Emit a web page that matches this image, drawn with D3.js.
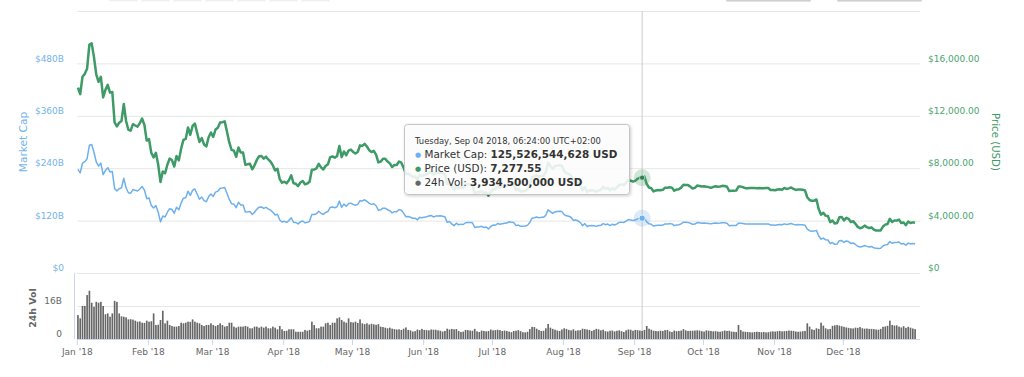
<!DOCTYPE html>
<html><head><meta charset="utf-8">
<script src="https://cdn.jsdelivr.net/npm/d3@7"></script>
<style>html,body{margin:0;padding:0;background:#fff;overflow:hidden}svg{display:block;font-family:"DejaVu Sans",sans-serif}</style>
</head><body><svg id="c" width="1024" height="377"></svg>
<script>
// ---------- DATA ----------
const startDate = "2018-01-01"; // one point per day, snapshot 06:24
const priceUSD = [14156,13657,14982,15201,15599,17429,17527,16477,15170,14595,
14973,13405,13980,14360,13772,13819,11490,11188,11474,11607,
12899,11600,10931,10868,11359,11259,11171,11441,11787,11296,
10106,10221,9171,8830,9174,8277,6955,7754,7621,8265,
8736,8621,8129,8926,8598,9494,10166,10233,11112,10551,
11225,11403,10690,10005,10301,9813,9664,10366,10725,10397,
10951,11086,11489,11512,11573,10779,9965,9395,9337,8866,
9578,9205,9194,8269,8300,8338,7916,8223,8630,8913,
8929,8729,8879,8668,8495,8209,7833,7954,7165,6890,
6973,6845,7083,7456,6853,6811,6636,6911,7023,6770,
6834,6968,7889,7895,7986,8329,8058,7902,8163,8294,
8845,8895,8802,8930,9697,8845,9281,8987,9348,9419,
9240,9119,9235,9743,9700,9858,9654,9373,9234,9325,
9043,8441,8504,8723,8716,8510,8368,8094,8250,8247,
8513,8419,8041,7557,7587,7481,7355,7368,7135,7472,
7406,7494,7541,7643,7720,7514,7633,7653,7678,7624,
7531,6786,6906,6582,6349,6675,6456,6550,6499,6734,
6769,6776,6729,6083,6162,6173,6249,6093,6157,5903,
6218,6404,6385,6614,6529,6597,6639,6673,6857,6773,
6741,6329,6394,6228,6238,6276,6359,6741,7321,7370,
7466,7354,7419,7418,7711,8424,8181,7951,8165,8192,
8218,8180,7780,7624,7567,7434,7032,7068,6951,6753,
6305,6568,6184,6295,6322,6297,6199,6308,6334,6580,
6423,6506,6308,6488,6376,6534,6719,6763,6707,6884,
7096,7047,6978,7037,7193,7273,7277.55,7362,6792,6529,
6467,6225,6300,6329,6321,6351,6517,6512,6543,6517,
6281,6371,6398,6519,6734,6721,6710,6595,6446,6495,
6676,6644,6601,6625,6589,6556,6502,6576,6622,6588,
6602,6652,6642,6585,6256,6274,6285,6290,6596,6596,
6544,6476,6465,6489,6482,6487,6476,6484,6470,6467,
6484,6486,6332,6334,6317,6377,6388,6361,6487,6415,
6462,6531,6416,6342,6382,6375,6359,6303,5783,5574,
5510,5520,5615,4871,4452,4602,4365,4347,3881,4009,
3779,3820,4257,4279,4017,4214,4139,3894,3957,3753,
3521,3419,3476,3615,3503,3424,3486,3313,3242,3236,
3252,3545,3696,3745,4134,3896,4014,3998,4078,3815,
3857,3654,3923,3820,3865,3830];
const marketCapB = [237.5,229.2,251.4,255.1,261.8,292.5,294.1,276.5,254.6,244.9,
251.6,225.2,234.9,241.2,231.4,232.2,193.0,188.0,192.8,195.0,
217.0,195.1,183.9,182.8,191.1,189.4,187.9,192.4,198.2,190.0,
170.2,172.1,154.4,148.7,154.5,139.4,117.1,130.6,128.3,139.2,
147.3,145.4,137.1,150.5,145.0,160.1,171.4,172.5,187.4,177.9,
189.5,192.5,180.4,168.9,173.9,165.6,163.1,175.0,181.0,175.5,
185.1,187.4,194.2,194.6,195.6,182.2,168.4,158.8,157.8,149.8,
162.1,155.8,155.6,139.9,140.4,141.1,133.9,139.1,146.0,150.8,
151.3,147.9,150.4,146.8,143.9,139.1,132.7,134.7,121.4,116.7,
118.3,116.1,120.1,126.5,116.2,115.5,112.5,117.2,119.1,114.8,
116.0,118.3,133.9,134.0,135.5,141.3,136.7,134.1,138.5,140.8,
150.3,151.1,149.5,151.7,164.7,150.3,157.7,152.7,158.8,160.0,
157.2,155.1,157.1,165.7,165.0,167.7,164.2,159.4,157.1,158.6,
154.0,143.7,144.8,148.5,148.4,144.9,142.5,137.8,140.5,140.4,
145.1,143.5,137.1,128.9,129.4,127.6,125.4,125.6,121.7,127.4,
126.4,127.9,128.7,130.5,131.8,128.3,130.3,130.6,131.1,130.1,
128.7,116.0,118.0,112.5,108.5,114.1,110.3,111.9,111.1,115.1,
115.8,115.9,115.1,104.1,105.4,105.6,106.9,104.3,105.3,101.0,
106.5,109.7,109.4,113.3,111.8,113.0,113.7,114.3,117.5,116.0,
115.6,108.5,109.7,106.8,107.0,107.6,109.1,115.6,125.6,126.4,
128.2,126.3,127.4,127.4,132.4,144.6,140.5,136.5,140.2,140.7,
141.3,140.6,133.7,131.0,130.1,127.8,120.9,121.5,119.5,116.1,
108.5,113.0,106.4,108.3,108.8,108.4,106.7,108.6,109.0,113.2,
110.7,112.1,108.7,111.8,109.9,112.6,115.8,116.5,115.6,118.6,
122.4,121.6,120.4,121.4,124.1,125.5,125.53,127.0,117.2,112.6,
111.6,107.4,108.7,109.2,109.1,109.6,112.5,112.4,112.9,112.5,
108.5,110.1,110.6,112.6,116.4,116.1,115.9,114.0,111.4,112.2,
115.5,114.9,114.2,114.6,114.0,113.4,112.5,113.8,114.6,114.0,
114.3,115.1,115.0,114.0,108.3,108.6,108.8,108.9,114.2,114.2,
113.4,112.2,112.0,112.5,112.3,112.4,112.2,112.4,112.1,112.1,
112.5,112.5,109.9,109.9,109.6,110.6,110.8,110.4,112.5,111.3,
112.2,113.4,111.4,110.1,110.8,110.7,110.4,109.4,100.4,96.8,
95.8,95.9,97.6,84.7,77.4,80.0,75.9,75.6,67.5,69.7,
65.7,66.4,74.0,74.4,69.9,73.3,72.0,67.7,68.8,65.3,
61.3,59.5,60.5,62.9,61.0,59.6,60.7,57.7,56.4,56.3,
56.7,61.8,64.4,65.3,72.1,67.9,70.0,69.7,71.1,66.5,
67.3,63.7,68.4,66.6,67.4,66.8];
const volumeB = [11.6,10.0,16.0,16.0,21.3,23.4,17.6,15.6,18.0,17.6,
18.0,16.0,12.0,12.4,10.8,12.4,18.5,18.0,12.4,11.0,
10.8,10.5,9.5,9.6,9.4,8.9,8.4,8.5,7.9,7.8,
8.9,8.4,8.6,12.4,6.8,6.9,9.2,13.7,7.6,8.9,
6.8,6.3,6.0,6.0,6.3,7.9,7.6,7.9,8.4,8.3,
9.5,8.4,7.9,7.6,6.8,6.3,6.8,6.8,7.6,6.8,
6.3,6.8,7.6,6.8,6.0,6.3,7.9,7.9,6.0,5.5,
6.0,6.0,6.0,6.3,6.0,5.2,5.2,6.0,6.0,5.5,
6.0,5.5,6.0,5.2,5.2,6.0,5.5,4.7,6.3,4.7,
3.9,4.0,4.7,4.7,4.7,3.5,3.5,3.5,3.5,4.4,
4.0,4.4,8.4,6.8,5.2,5.2,6.0,6.0,7.6,7.9,
6.8,7.9,7.9,10.0,10.5,9.2,8.4,7.9,10.0,8.2,
8.0,8.4,7.8,9.5,7.6,7.2,7.6,7.0,7.4,7.1,
6.9,7.2,6.0,5.8,5.5,5.2,5.5,5.0,4.8,4.6,
4.7,4.4,5.0,5.6,4.4,4.2,3.6,3.8,4.6,4.3,
4.9,4.4,4.3,4.2,4.6,4.5,4.5,4.2,4.0,3.6,
3.9,5.0,4.6,4.9,4.7,4.8,3.9,3.4,3.6,4.4,
4.3,4.1,4.0,4.9,3.7,3.4,4.1,3.9,3.7,3.9,
4.6,4.2,4.3,4.5,4.3,3.9,4.1,3.9,3.6,3.3,
3.9,4.0,4.3,3.8,3.3,3.2,3.5,4.8,5.9,5.8,
5.0,4.4,3.9,4.0,5.2,7.3,5.5,4.9,4.5,4.1,
3.9,4.6,5.2,4.9,4.4,4.2,4.7,4.0,4.2,4.3,
5.0,4.8,4.6,4.4,3.9,4.4,4.9,4.7,4.2,4.5,
3.8,3.6,4.0,4.1,3.7,4.0,4.2,3.8,3.4,4.2,
4.6,4.5,4.0,4.4,4.3,4.1,3.9345,4.4,6.3,5.0,
4.5,4.0,3.9,3.8,4.0,3.9,4.3,4.4,3.7,3.4,
4.1,3.8,3.9,4.1,4.8,4.2,3.9,4.0,4.0,4.1,
4.2,4.1,3.8,3.6,4.2,4.0,3.9,3.7,3.8,3.6,
3.5,3.8,4.1,3.9,4.0,3.6,3.5,3.4,6.8,4.3,
3.6,3.5,3.4,3.3,3.2,3.4,3.5,3.4,3.3,3.4,
3.2,3.3,3.6,3.7,3.6,3.8,3.9,3.7,3.8,3.9,
4.1,4.0,3.9,3.6,3.5,3.6,3.8,3.9,7.6,6.0,
4.7,4.4,5.2,4.9,7.9,6.5,5.2,4.7,4.9,6.4,
6.6,6.8,6.5,6.2,5.9,5.6,5.4,5.2,5.1,5.5,
5.4,5.8,5.2,5.0,5.1,4.9,4.9,4.8,4.6,4.5,
4.9,5.9,6.1,6.4,8.9,6.8,6.5,6.6,6.0,5.6,
6.2,5.4,5.9,5.5,5.1,4.8];
const priceTicks = [0, 4000, 8000, 12000, 16000, 20000];
const capTicksB = [0, 120, 240, 360, 480, 600];
const volTicksB = [0, 16];
const monthTicks = ["2018-01-01","2018-02-01","2018-03-01","2018-04-01","2018-05-01","2018-06-01",
  "2018-07-01","2018-08-01","2018-09-01","2018-10-01","2018-11-01","2018-12-01"];
const monthLabels = ["Jan '18","Feb '18","Mar '18","Apr '18","May '18","Jun '18",
  "Jul '18","Aug '18","Sep '18","Oct '18","Nov '18","Dec '18"];
const hoverIndex = 246;
const tipHeader = "Tuesday, Sep 04 2018, 06:24:00 UTC+02:00";
const tipNames = ["Market Cap: ", "Price (USD): ", "24h Vol: "];
const tipValues = ["125,526,544,628 USD", "7,277.55", "3,934,500,000 USD"];

// ---------- LAYOUT / STYLE ----------
const X0 = 77.3, X1 = 920, YT = 11, YB = 273, VB = 339, V16 = 306;
const BLUE = "#6eb0ec", BLUE_T = "#74b3ea", GREEN = "#3e9a66", GREEN_T = "#4aa470";
const GRID = "#e6e6e6", AXIS = "#ccd6eb";

const svg = d3.select("#c");
const parse = d3.utcParse("%Y-%m-%d");
const t0 = parse(startDate);
const x = d3.scaleUtc().domain([t0, d3.utcHour.offset(t0, 367 * 24 + 10)]).range([X0, X1]);
const tAt = i => d3.utcMinute.offset(d3.utcDay.offset(t0, i), 384);
const yP = d3.scaleLinear().domain([0, 20000]).range([YB, YT]);
const yC = d3.scaleLinear().domain([0, 600]).range([YB, YT]);
const yV = d3.scaleLinear().domain([0, 16]).range([VB, V16]);

// defs
const defs = svg.append("defs");
const f = defs.append("filter").attr("id", "sh").attr("x", "-10%").attr("y", "-10%").attr("width", "130%").attr("height", "140%");
f.append("feDropShadow").attr("dx", 1).attr("dy", 1).attr("stdDeviation", 1.4).attr("flood-color", "#000").attr("flood-opacity", 0.22);

// top UI remnants (range buttons / date inputs cut off)
const btnX = [110, 142, 174, 206, 238, 270, 302];
svg.append("g").selectAll("rect").data(btnX).join("rect")
  .attr("x", d => d).attr("y", -10).attr("width", 27).attr("height", 10.8)
  .attr("fill", "#f8f8f8").attr("stroke", "#ececec");
svg.append("g").selectAll("rect").data([727, 838]).join("rect")
  .attr("x", d => d).attr("y", -10).attr("width", 83).attr("height", 10.8)
  .attr("fill", "#fff").attr("stroke", "#c8ccc8").attr("stroke-width", 1.4);

// grid main
svg.append("g").selectAll("line").data(priceTicks).join("line")
  .attr("x1", X0).attr("x2", X1).attr("y1", d => yP(d) + 0.5).attr("y2", d => yP(d) + 0.5)
  .attr("stroke", GRID).attr("stroke-width", 1);
// grid volume
svg.append("g").selectAll("line").data(volTicksB.filter(d => d > 0)).join("line")
  .attr("x1", X0).attr("x2", X1).attr("y1", d => yV(d) + 0.5).attr("y2", d => yV(d) + 0.5)
  .attr("stroke", GRID);

// left axis labels (market cap)
svg.append("g").selectAll("text").data(capTicksB.filter(d => d < 600)).join("text")
  .attr("x", 64).attr("y", d => yC(d) - 1.8).attr("text-anchor", "end")
  .attr("font-size", 9).attr("fill", BLUE_T).text(d => "$" + d + (d ? "B" : ""));
// right axis labels (price)
const fmtP = d3.format("$,.2f");
svg.append("g").selectAll("text").data(priceTicks.filter(d => d < 20000)).join("text")
  .attr("x", 928).attr("y", d => yP(d) - 1.8).attr("text-anchor", "start")
  .attr("font-size", 9).attr("fill", GREEN_T).text(d => d ? fmtP(d) : "$0");
// volume labels
svg.append("g").selectAll("text").data(volTicksB).join("text")
  .attr("x", 62).attr("y", d => yV(d) - 1.8).attr("text-anchor", "end")
  .attr("font-size", 9).attr("fill", "#666").text(d => d ? d + "B" : "0");

// axis titles
svg.append("text").attr("transform", "translate(22.5,142) rotate(-90)")
  .attr("text-anchor", "middle").attr("dominant-baseline", "central")
  .attr("font-size", 10.6).attr("fill", BLUE_T).text("Market Cap");
svg.append("text").attr("transform", "translate(995,142) rotate(90)")
  .attr("text-anchor", "middle").attr("dominant-baseline", "central")
  .attr("font-size", 10.2).attr("fill", GREEN).text("Price (USD)");
svg.append("text").attr("transform", "translate(32,308) rotate(-90)")
  .attr("text-anchor", "middle").attr("dominant-baseline", "central")
  .attr("font-size", 9.4).attr("font-weight", "bold").attr("fill", "#666").text("24h Vol");

// left separator line of volume pane
svg.append("line").attr("x1", 74.5).attr("x2", 74.5).attr("y1", YB).attr("y2", VB)
  .attr("stroke", AXIS);

// x axis
svg.append("line").attr("x1", X0).attr("x2", X1).attr("y1", VB + 0.5).attr("y2", VB + 0.5).attr("stroke", AXIS);
const mt = monthTicks.map(parse);
svg.append("g").selectAll("line").data(mt).join("line")
  .attr("x1", d => x(d)).attr("x2", d => x(d)).attr("y1", VB).attr("y2", VB + 6).attr("stroke", AXIS);
svg.append("g").selectAll("text").data(mt).join("text")
  .attr("x", d => x(d)).attr("y", 355).attr("text-anchor", "middle")
  .attr("font-size", 9).attr("fill", "#666").text((d, i) => monthLabels[i]);

// crosshair
const hx = x(tAt(hoverIndex));
svg.append("line").attr("x1", hx).attr("x2", hx).attr("y1", YT).attr("y2", VB)
  .attr("stroke", "#cccccc").attr("stroke-width", 1);

// volume bars
svg.append("g").selectAll("rect").data(volumeB).join("rect")
  .attr("x", (d, i) => x(tAt(i)) - 0.8).attr("width", 1.65)
  .attr("y", d => yV(d)).attr("height", d => VB - yV(d))
  .attr("fill", "#666");

// lines
const lineC = d3.line().x((d, i) => x(tAt(i))).y(d => yC(d));
const lineP = d3.line().x((d, i) => x(tAt(i))).y(d => yP(d));
svg.append("path").datum(marketCapB).attr("d", lineC).attr("fill", "none")
  .attr("stroke", BLUE).attr("stroke-width", 1.5).attr("stroke-linejoin", "round");
svg.append("path").datum(priceUSD).attr("d", lineP).attr("fill", "none")
  .attr("stroke", GREEN).attr("stroke-width", 2.5).attr("stroke-linejoin", "round");

// hover markers
const pc = yC(marketCapB[hoverIndex]), pp = yP(priceUSD[hoverIndex]);
svg.append("circle").attr("cx", hx).attr("cy", pc).attr("r", 8.5).attr("fill", BLUE).attr("opacity", 0.25);
svg.append("circle").attr("cx", hx).attr("cy", pc).attr("r", 3.2).attr("fill", BLUE).attr("stroke", "#fff").attr("stroke-width", 0.8);
svg.append("circle").attr("cx", hx).attr("cy", pp).attr("r", 8.5).attr("fill", GREEN).attr("opacity", 0.25);
svg.append("circle").attr("cx", hx).attr("cy", pp).attr("r", 2.6).attr("fill", "#2f7d50").attr("stroke", "#fff").attr("stroke-width", 0.6);

// tooltip
const tip = svg.append("g");
tip.append("rect").attr("x", 404.5).attr("y", 124.5).attr("width", 225).attr("height", 70).attr("rx", 3)
  .attr("fill", "rgba(255,255,255,0.86)").attr("stroke", "#c4c4c4").attr("filter", "url(#sh)");
tip.append("text").attr("x", 415).attr("y", 144.2).attr("font-size", 8.4).attr("fill", "#333").text(tipHeader);
const bulletColors = [BLUE, GREEN, "#666"];
const rowY = [158, 172, 186.2];
tipNames.forEach((n, k) => {
  tip.append("text").attr("x", 415).attr("y", rowY[k] - 1).attr("font-size", 7).attr("fill", bulletColors[k]).text("\u25CF");
  const t = tip.append("text").attr("x", 424.5).attr("y", rowY[k]).attr("font-size", 10.4).attr("fill", "#333");
  t.append("tspan").text(n);
  t.append("tspan").attr("font-weight", "bold").text(tipValues[k]);
});
</script></body></html>
